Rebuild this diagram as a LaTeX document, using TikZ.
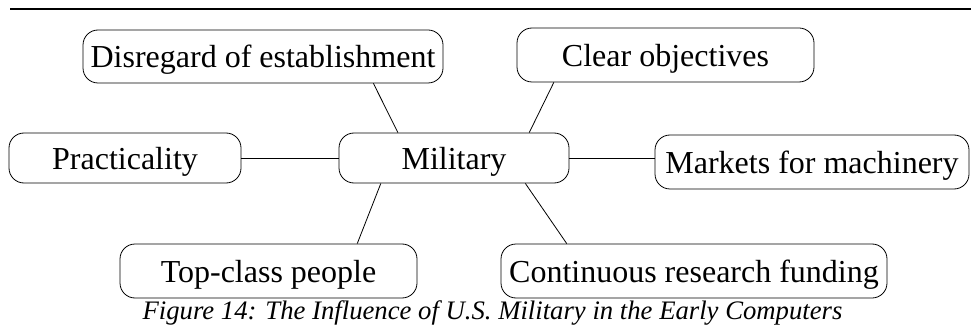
\documentclass[tikz,border=0pt]{standalone}
\usepackage{fontspec}
\setmainfont{Liberation Serif}
\usetikzlibrary{calc}
\begin{document}
\begin{tikzpicture}[x=1pt,y=-1pt,
  factor/.style={draw, line width=0.8pt, rounded corners=15pt, inner sep=0pt,
    font=\fontsize{32}{36}\selectfont, text height=23pt, text depth=0pt},
  link/.style={line width=0.8pt}]
  \useasboundingbox (0,0) rectangle (971,331);
  % top rule
  \draw[line width=1.2pt] (10,9) -- (971,9);
  % factor boxes
  \node[factor, minimum width=360pt, minimum height=53pt] (dis) at (263,56.5) {Disregard of establishment};
  \node[factor, minimum width=297pt, minimum height=54pt] (clr) at (665.5,55) {Clear objectives};
  \node[factor, minimum width=232pt, minimum height=50pt] (pra) at (125,158) {Practicality};
  \node[factor, minimum width=230pt, minimum height=50pt] (mil) at (454,158) {Military};
  \node[factor, minimum width=314pt, minimum height=54pt] (mkt) at (812,162) {Markets for machinery};
  \node[factor, minimum width=297pt, minimum height=54pt] (top) at (268.5,271) {Top-class people};
  \node[factor, minimum width=386pt, minimum height=54pt] (con) at (694,271) {Continuous research funding};
  % connectors
  \draw[link] (pra.east) -- (mil.west);
  \draw[link] (mil.east) -- (mil.east -| mkt.west);
  \draw[link] ($(dis.south west)!0.806!(dis.south east)$) -- ($(mil.north west)!0.257!(mil.north east)$);
  \draw[link] ($(clr.south west)!0.125!(clr.south east)$) -- ($(mil.north west)!0.826!(mil.north east)$);
  \draw[link] ($(mil.south west)!0.183!(mil.south east)$) -- ($(top.north west)!0.798!(top.north east)$);
  \draw[link] ($(mil.south west)!0.809!(mil.south east)$) -- ($(con.north west)!0.171!(con.north east)$);
  % caption
  \node[font=\itshape\fontsize{26.7}{30}\selectfont, inner sep=0pt] (cap) at (492.5,313) {Figure 14: The Influence of U.S. Military in the Early Computers};
\end{tikzpicture}
\end{document}
